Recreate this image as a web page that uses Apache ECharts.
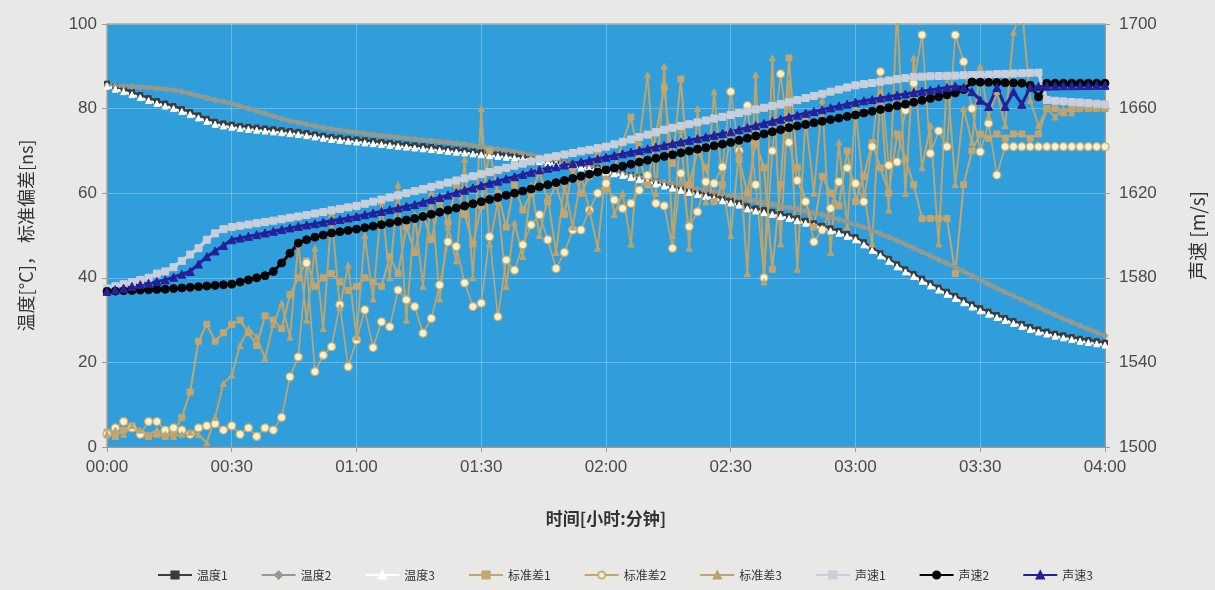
<!DOCTYPE html>
<html><head><meta charset="utf-8">
<script src="https://cdn.jsdelivr.net/npm/echarts@6/dist/echarts.min.js"></script>
<style>html,body{margin:0;padding:0;background:#e8e8e6;}#c{width:1215px;height:590px;}</style>
</head><body><div id="c"></div>
<script>
// time axis: one sample every 2 minutes, 00:00 .. 04:00
const stepMinutes = 2;
const tickLabels = ['00:00','00:30','01:00','01:30','02:00','02:30','03:00','03:30','04:00'];

const temp1 = [85.9,85.2,84.6,83.9,83.2,82.5,81.8,81.2,80.6,79.9,79.2,78.4,77.6,76.9,76.5,76.2,75.9,75.7,75.5,75.3,75.1,74.9,74.7,74.5,74.2,73.9,73.6,73.3,73.1,72.9,72.7,72.5,72.3,72.1,71.9,71.7,71.5,71.3,71.1,70.9,70.7,70.5,70.3,70.1,69.9,69.7,69.5,69.3,69.1,68.9,68.7,68.4,68.1,67.8,67.5,67.2,66.9,66.6,66.3,66.0,65.6,65.2,64.8,64.3,63.8,63.3,62.8,62.3,61.8,61.3,60.8,60.3,59.8,59.3,58.8,58.3,57.8,56.9,56.4,56.0,55.6,55.1,54.6,54.1,53.5,52.9,52.3,51.7,51.1,50.4,49.6,48.4,47.1,45.8,44.5,43.2,42.0,40.9,39.8,38.7,37.7,36.7,35.7,34.7,33.7,32.8,32.0,31.2,30.5,29.8,29.1,28.4,27.8,27.3,26.8,26.4,26.0,25.6,25.3,25.0,24.7];
const temp2 = [85.5,85.4,85.3,85.2,85.1,85.0,84.8,84.6,84.4,84.0,83.5,83.0,82.5,82.0,81.6,81.2,80.6,80.0,79.4,78.8,78.2,77.6,77.1,76.7,76.3,75.9,75.5,75.2,74.9,74.6,74.4,74.1,73.9,73.6,73.4,73.2,73.0,72.8,72.6,72.4,72.2,72.0,71.8,71.6,71.3,71.0,70.7,70.4,70.1,69.8,69.4,69.0,68.6,68.2,67.8,67.4,67.0,66.6,66.2,65.8,65.4,65.0,64.6,64.2,63.8,63.4,63.0,62.6,62.2,61.8,61.4,61.0,60.6,60.2,59.8,59.4,59.0,58.6,58.2,57.8,57.4,57.0,56.6,56.2,55.8,55.4,54.9,54.4,53.8,53.2,52.6,51.9,51.2,50.4,49.6,48.8,47.9,47.0,46.1,45.2,44.3,43.4,42.5,41.5,40.5,39.5,38.5,37.5,36.6,35.7,34.8,33.9,33.0,32.1,31.2,30.3,29.5,28.7,27.9,27.1,26.3];
const temp3 = [85.3,84.6,84.0,83.3,82.6,81.9,81.2,80.6,80.0,79.3,78.6,77.8,77.0,76.3,75.9,75.6,75.3,75.1,74.9,74.7,74.5,74.3,74.1,73.9,73.6,73.3,73.0,72.7,72.5,72.3,72.1,71.9,71.7,71.5,71.3,71.1,70.9,70.7,70.5,70.3,70.1,69.9,69.7,69.5,69.3,69.1,68.9,68.7,68.5,68.3,68.1,67.8,67.5,67.2,66.9,66.6,66.3,66.0,65.7,65.4,65.0,64.6,64.2,63.7,63.2,62.7,62.2,61.7,61.2,60.7,60.2,59.7,59.2,58.7,58.2,57.7,57.2,56.3,55.8,55.4,55.0,54.5,54.0,53.5,52.9,52.3,51.7,51.1,50.5,49.8,49.0,47.8,46.5,45.2,43.9,42.6,41.4,40.3,39.2,38.1,37.1,36.1,35.1,34.1,33.1,32.2,31.4,30.6,29.9,29.2,28.5,27.8,27.2,26.7,26.2,25.8,25.4,25.0,24.7,24.4,24.1];

const std1 = [3.5,2.5,4,5,3,2.5,3,2.5,3.5,7,13,25,29,25,27,29,30,27,24,31,30,28,36,40,44,38,40,41,39,37,38,40,39,38,45,41,52,46,55,49,58,53,62,55,48,57,70,60,52,62,56,60,65,58,62,55,66,60,64,70,61,66,72,78,68,62,74,85,67,87,62,70,66,58,62,74,68,60,72,66,42,62,92,66,58,52,64,60,57,70,58,64,72,66,60,74,68,62,54,54,54,54,41,62,70,74,73,74,73,74,74,73,74,80,80,79,80,81,80,80,80];
const std2 = [3,4.5,6,4.5,3,6,6,4,4.5,4,3,4.5,5,5.5,4,5,3,4.5,2.5,4.5,4,7,16.6,21.3,43.5,17.8,21.7,23.7,33.6,19,25.3,32.4,23.5,29.6,28.4,37.1,34.8,33.2,26.9,30.4,38.3,48.5,47.4,38.8,33.2,34,49.7,30.8,44.2,41.8,47.8,52.5,54.9,49,42.2,46,51.3,51.3,56,60,62.3,58.4,56.4,57.6,60.7,64.2,57.6,57,47,64.7,52.1,55.6,62.7,62.3,66.2,84,70,80.7,62,40,70,88.2,72,63,58,48.5,51.3,56.4,62.7,66,62.3,58,71,88.7,66.6,67.4,79.6,86,97.4,69.4,74.7,71,97.4,91.1,80,69.8,76.5,64.3,71,71,71,71,71,71,71,71,71,71,71,71,71];
const std3 = [3,4,3,5,4,3,4,3,2.5,3,3.5,3,1,7,15,17,24,28,26,21,29,34,26,48,30,47,28,55,33,43,26,50,35,58,40,62,30,55,38,60,35,52,44,68,40,80,48,58,38,53,45,62,50,59,46,62,52,64,56,47,66,55,60,48,72,88,60,90,50,75,47,80,58,84,62,50,70,41,88,39,92,48,86,42,78,60,82,46,72,52,80,60,48,84,56,104,60,92,66,76,48,88,62,80,72,90,78,84,76,98,104,82,76,80,78,80,79,80,80,80,80];

const speed1 = [1575,1576,1577,1578,1579,1580,1582,1583,1585,1588,1591,1594,1598,1601,1603,1604,1604.6,1605.2,1605.8,1606.4,1607,1607.7,1608.4,1609,1609.7,1610.4,1611.1,1611.9,1612.6,1613.3,1614,1615,1616,1617,1618,1619,1620,1621,1622,1623,1624,1625,1626,1627,1628,1629,1630,1631,1632,1633,1634,1635,1636,1636.8,1637.5,1638.3,1639,1639.8,1640.5,1641.3,1642,1643.1,1644.3,1645.4,1646.6,1647.7,1648.9,1650,1650.9,1651.8,1652.6,1653.5,1654.4,1655.3,1656.1,1657,1657.9,1658.7,1659.6,1660.4,1661.3,1662.1,1663,1664,1665,1666,1667,1668,1669,1670,1671,1671.6,1672.1,1672.7,1673.3,1673.9,1674.4,1675,1675.1,1675.3,1675.4,1675.5,1675.6,1675.8,1675.9,1676,1676.1,1676.3,1676.4,1676.6,1676.7,1676.9,1677,1664,1663.7,1663.4,1663.1,1662.9,1662.6,1662.3,1662];
const speed2 = [1573.6,1573.7,1573.9,1574.0,1574.2,1574.3,1574.5,1574.6,1574.9,1575.2,1575.5,1575.8,1576.1,1576.4,1576.7,1577,1578,1579,1580,1581,1583,1587,1591.6,1596.4,1598,1599.2,1600.2,1601.2,1601.8,1602.4,1603,1603.7,1604.4,1605.1,1605.9,1606.6,1607.3,1608,1609,1610,1611,1612,1613,1614,1615,1616,1617,1618,1619,1620,1621,1622,1623,1624,1625,1626,1627,1628,1629,1630,1631,1631.9,1632.8,1633.7,1634.7,1635.6,1636.5,1637.4,1638.2,1639.1,1639.9,1640.8,1641.5,1642.4,1643.2,1644,1645,1646,1647,1648,1649,1650,1651,1651.8,1652.5,1653.3,1654,1654.8,1655.5,1656.3,1657,1657.9,1658.7,1659.6,1660.4,1661.3,1662.1,1663,1663.9,1664.8,1665.6,1666.5,1667.4,1669,1672.6,1672.5,1672.4,1672.3,1672.2,1672.1,1672,1671,1665.5,1672,1672,1672,1672,1672,1672,1672,1672];
const speed3 = [1573.6,1574.4,1575.1,1575.9,1576.7,1577.4,1578.2,1579,1580.3,1581.7,1583,1586.5,1590,1592.7,1595.3,1598,1598.8,1599.6,1600.4,1601.2,1602,1602.8,1603.6,1604.3,1605,1605.6,1606.3,1607,1607.6,1608.3,1609,1609.8,1610.6,1611.4,1612.2,1613,1613.8,1614.6,1615.7,1616.9,1618,1619.1,1620.3,1621.4,1622.5,1623.6,1624.7,1625.7,1626.8,1627.8,1628.9,1629.9,1631,1631.8,1632.5,1633.3,1634,1634.8,1635.5,1636.3,1637,1637.8,1638.6,1639.4,1640.2,1641,1641.8,1642.6,1643.4,1644.2,1645,1645.8,1646.6,1647.4,1648.2,1649,1650,1651,1652,1653,1654,1655,1656,1656.9,1657.8,1658.6,1659.5,1660.4,1661.3,1662.1,1663,1663.7,1664.3,1665,1665.6,1666.3,1666.9,1667.6,1668.2,1668.8,1669.4,1670,1670.6,1670,1668,1664,1661,1670,1661,1668,1662,1670,1670.5,1670.6,1670.7,1670.8,1670.8,1670.9,1670.9,1671,1671];

const seriesNames = ['温度1','温度2','温度3','标准差1','标准差2','标准差3','声速1','声速2','声速3'];

const categories = [];
for (let i = 0; i < temp1.length; i++) {
  const m = i * stepMinutes;
  categories.push(String(Math.floor(m / 60)).padStart(2, '0') + ':' + String(m % 60).padStart(2, '0'));
}

const latin = '"Liberation Sans", Arial, sans-serif';
const cjk = '"Noto Sans CJK SC", sans-serif';
const tan = '#c3a66f';

function mk(name, data, yIdx, color, symbol, size, lw, extra) {
  return Object.assign({
    name, type: 'line', data, yAxisIndex: yIdx, symbol, symbolSize: size,
    showSymbol: true, showAllSymbol: true, clip: true, animation: false,
    lineStyle: { color, width: lw },
    itemStyle: { color, borderColor: color, borderWidth: 1 }
  }, extra || {});
}

const chart = echarts.init(document.getElementById('c'), null, { renderer: 'canvas' });
chart.setOption({
  backgroundColor: '#e8e8e6',
  animation: false,
  grid: { left: 107, right: 108, top: 24, bottom: 143, show: true, backgroundColor: '#2f9edb', borderColor: '#8e8e8e', borderWidth: 1 },
  legend: {
    bottom: 4, left: 152, itemWidth: 34, itemHeight: 9, itemGap: 33,
    textStyle: { fontSize: 12, color: '#333', fontFamily: cjk },
    data: seriesNames
  },
  xAxis: {
    type: 'category', data: categories, boundaryGap: false,
    axisLine: { lineStyle: { color: '#9a9a9a' } },
    axisTick: { interval: 14, length: 5, lineStyle: { color: '#9a9a9a' } },
    axisLabel: { interval: 14, fontSize: 17, color: '#4a4a4a', margin: 12, fontFamily: latin,
      formatter: v => tickLabels.indexOf(v) >= 0 ? v : '' },
    splitLine: { show: true, interval: 14, lineStyle: { color: 'rgba(255,255,255,0.28)', width: 1 } },
    name: '时间[小时:分钟]', nameLocation: 'middle', nameGap: 63,
    nameTextStyle: { fontSize: 17, fontWeight: 'bold', color: '#333', fontFamily: cjk }
  },
  yAxis: [
    { type: 'value', min: 0, max: 100, interval: 20,
      axisLine: { show: true, lineStyle: { color: '#9a9a9a' } },
      axisTick: { show: true, length: 5, lineStyle: { color: '#9a9a9a' } },
      axisLabel: { fontSize: 17, color: '#4a4a4a', margin: 10, fontFamily: latin },
      splitLine: { show: true, lineStyle: { color: 'rgba(255,255,255,0.28)', width: 1 } },
      name: '温度[°C]， 标准偏差[ns]', nameLocation: 'middle', nameGap: 72,
      nameTextStyle: { fontSize: 18, color: '#333', fontFamily: cjk } },
    { type: 'value', min: 1500, max: 1700, interval: 40, position: 'right',
      axisLine: { show: true, lineStyle: { color: '#9a9a9a' } },
      axisTick: { show: true, length: 5, lineStyle: { color: '#9a9a9a' } },
      axisLabel: { fontSize: 17, color: '#4a4a4a', margin: 14, fontFamily: latin, formatter: v => String(v) },
      splitLine: { show: false },
      name: '声速 [m/s]', nameLocation: 'middle', nameGap: 83, nameRotate: 90,
      nameTextStyle: { fontSize: 19, color: '#333', fontFamily: cjk } }
  ],
  series: [
    mk('温度1', temp1, 0, '#3c3c3c', 'rect', 5, 2.5),
    mk('温度2', temp2, 0, '#949a90', 'diamond', 6, 4),
    mk('温度3', temp3, 0, '#ffffff', 'triangle', 6, 2.5),
    mk('标准差1', std1, 0, tan, 'rect', 6, 2),
    mk('标准差2', std2, 0, tan, 'circle', 8, 1.6, { itemStyle: { color: '#f6f1cf', borderColor: '#c9ad72', borderWidth: 1.2 } }),
    mk('标准差3', std3, 0, '#bda46c', 'triangle', 6, 2),
    mk('声速1', speed1, 1, '#c9cedb', 'rect', 7, 3.5),
    mk('声速2', speed2, 1, '#050505', 'circle', 8, 3),
    mk('声速3', speed3, 1, '#24209a', 'triangle', 8, 3)
  ]
});
</script></body></html>
